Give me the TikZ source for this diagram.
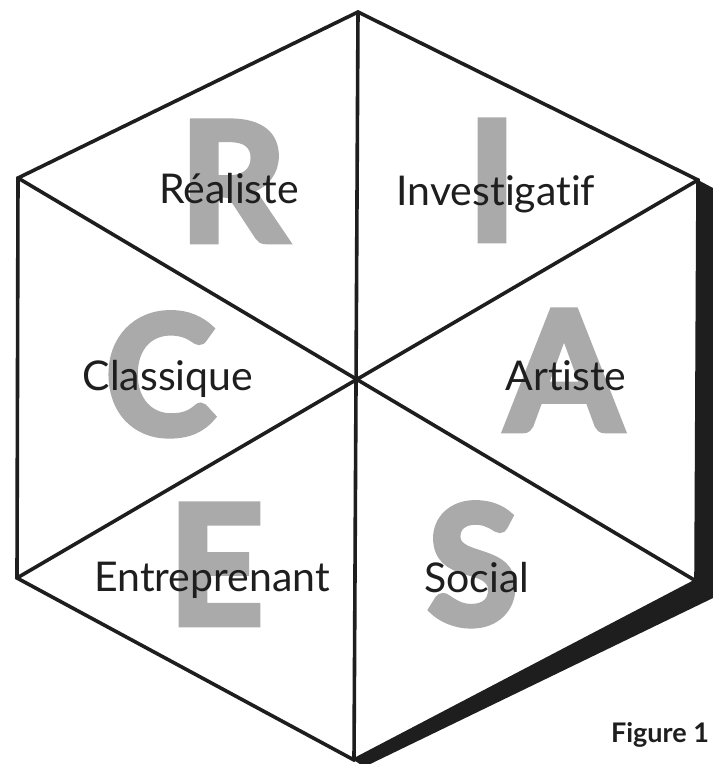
\documentclass[tikz,border=0pt]{standalone}
\usepackage{fontspec}
\setmainfont[Ligatures=NoCommon]{Lato}
\newfontfamily\bigletterfont[FakeBold=4,Ligatures=NoCommon]{Lato}
\definecolor{lettergray}{RGB}{170,170,170}
\definecolor{ink}{RGB}{30,30,30}
\tikzset{
  edge/.style={line width=3.6pt, draw=ink, line join=miter},
  bigletter/.style={anchor=base, inner sep=0pt, text=lettergray, font=\bigletterfont\bfseries\fontsize{165}{165}\selectfont},
  label/.style={anchor=base, inner sep=0pt, text=ink, font=\fontsize{41}{41}\selectfont},
}
\begin{document}
\begin{tikzpicture}[x=1pt,y=-1pt]
\useasboundingbox (0,0) rectangle (713,764);
\fill[white] (0,0) rectangle (713,764);
% vertices
\coordinate (T) at (358,12);
\coordinate (UR) at (698,180);
\coordinate (LR) at (696,581);
\coordinate (B) at (354,760);
\coordinate (LL) at (17,578);
\coordinate (UL) at (18,178);
\coordinate (O) at (357,379);
\coordinate (SUR) at (713,188);
\coordinate (SLR) at (713,598);
\coordinate (SB) at (364,767);
% shadow
\fill[ink] (UR) -- (SUR) -- (SLR) -- (SB) -- (B) -- (LR) -- cycle;
% big letters
\node[bigletter] (bR) at (233,241) {R};
\node[bigletter] (bI) at (492,240) {I};
\node[bigletter] (bC) at (160,434) {C};
\node[bigletter] (bA) at (564,430) {A};
\node[bigletter] (bE) at (216,624) {E};
\node[bigletter] (bS) at (473,624) {S};
% labels
\node[label] (lR) at (229,203) {Réaliste};
\node[label] (lI) at (496,205) {Investigatif};
\node[label] (lC) at (168,390) {Classique};
\node[label] (lA) at (566,390) {Artiste};
\node[label] (lE) at (212,591) {Entreprenant};
\node[label] (lS) at (477,592) {Social};
% hexagon
\draw[edge] (T) -- (UR) -- (LR) -- (B) -- (LL) -- (UL) -- cycle;
\draw[edge] (T) -- (B);
\draw[edge] (UL) -- (LR);
\draw[edge] (UR) -- (LL);
% caption
\node[anchor=base, inner sep=0pt, text=ink, font=\bfseries\fontsize{27}{27}\selectfont] (fig) at (660,742) {Figure 1};
\end{tikzpicture}
\end{document}
